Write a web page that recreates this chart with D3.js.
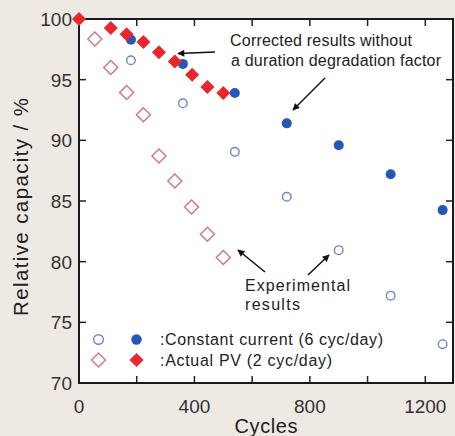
<!DOCTYPE html>
<meta charset="utf-8">
<style type="text/css">
body {
  margin: 0;
  background: #efe9e4;
  font-family: 'Liberation Sans', Arial, sans-serif;
}
.tick-label { font-size: 19px; fill: #333; }
.ann { font-size: 16px; fill: #222; }
</style>
<head>
  <script src="https://cdnjs.cloudflare.com/ajax/libs/d3/7.8.5/d3.min.js"></script>
</head>
<body>
<div class="g-chart"></div>
<script type="text/javascript">

// constant current (6 cyc/day)
var ccCycles = [180, 360, 540, 720, 900, 1080, 1260];
var ccExperimental = [96.6, 93.05, 89.05, 85.35, 80.95, 77.2, 73.2];
var ccCorrected = [98.3, 96.3, 93.9, 91.4, 89.6, 87.2, 84.25];

// actual PV (2 cyc/day)
var pvExpCycles = [55, 110, 165, 223, 277, 332, 390, 445, 500];
var pvExperimental = [98.35, 96.0, 93.95, 92.1, 88.7, 86.65, 84.5, 82.25, 80.35];
var pvCorCycles = [0, 110, 165, 223, 277, 332, 392, 445, 500];
var pvCorrected = [100, 99.25, 98.75, 98.1, 97.25, 96.5, 95.4, 94.4, 93.9];

var xTicks = [0, 200, 400, 600, 800, 1000, 1200];
var xLabels = [0, 400, 800, 1200];
var yTicks = [70, 75, 80, 85, 90, 95, 100];

var width = 455, height = 436;
var blue = "#2757b5", blueOpen = "#6f86c8", red = "#e8262b", redOpen = "#cf7480";

var svg = d3.select(".g-chart").append("svg")
  .attr("width", width)
  .attr("height", height);

var x = d3.scaleLinear().domain([0, 1296]).range([79, 453]);
var y = d3.scaleLinear().domain([70, 100]).range([383, 19]);

// plot area
svg.append("rect")
  .attr("x", x(0)).attr("y", y(100))
  .attr("width", x(1296) - x(0)).attr("height", y(70) - y(100))
  .attr("fill", "#fff");

var defs = svg.append("defs");
defs.append("marker")
  .attr("id", "arrow")
  .attr("viewBox", "0 0 10 10")
  .attr("refX", 9).attr("refY", 5)
  .attr("markerWidth", 10).attr("markerHeight", 7)
  .attr("markerUnits", "userSpaceOnUse")
  .attr("orient", "auto")
  .append("path").attr("d", "M0,0L10,5L0,10z").attr("fill", "#111");

// ticks, inward on all sides
var tickLen = 7;
svg.append("g").selectAll("line.xb").data(xTicks).enter().append("line")
  .attr("x1", d => x(d)).attr("x2", d => x(d))
  .attr("y1", y(70)).attr("y2", y(70) - tickLen)
  .attr("stroke", "#222").attr("stroke-width", 1.5);
svg.append("g").selectAll("line.xt").data(xTicks).enter().append("line")
  .attr("x1", d => x(d)).attr("x2", d => x(d))
  .attr("y1", y(100)).attr("y2", y(100) + tickLen)
  .attr("stroke", "#222").attr("stroke-width", 1.5);
svg.append("g").selectAll("line.yl").data(yTicks).enter().append("line")
  .attr("x1", x(0)).attr("x2", x(0) + tickLen)
  .attr("y1", d => y(d)).attr("y2", d => y(d))
  .attr("stroke", "#222").attr("stroke-width", 1.5);
svg.append("g").selectAll("line.yr").data(yTicks).enter().append("line")
  .attr("x1", x(1296)).attr("x2", x(1296) - tickLen)
  .attr("y1", d => y(d)).attr("y2", d => y(d))
  .attr("stroke", "#222").attr("stroke-width", 1.5);

// frame
svg.append("rect")
  .attr("x", x(0)).attr("y", y(100))
  .attr("width", x(1296) - x(0)).attr("height", y(70) - y(100))
  .attr("fill", "none").attr("stroke", "#1a1a1a").attr("stroke-width", 2);

// tick labels
svg.append("g").selectAll("text").data(yTicks).enter().append("text")
  .attr("class", "tick-label")
  .attr("x", 72).attr("y", d => y(d) + 7)
  .attr("text-anchor", "end")
  .text(d => d);
svg.append("g").selectAll("text").data(xLabels).enter().append("text")
  .attr("class", "tick-label")
  .attr("x", d => x(d)).attr("y", 413)
  .attr("text-anchor", "middle")
  .text(d => d);

// axis titles
svg.append("text")
  .attr("transform", "translate(28,207) rotate(-90)")
  .attr("text-anchor", "middle")
  .attr("textLength", 218).attr("lengthAdjust", "spacing")
  .style("font-size", "20.5px").style("fill", "#222")
  .text("Relative capacity / %");
svg.append("text")
  .attr("x", 266).attr("y", 433)
  .attr("text-anchor", "middle")
  .attr("textLength", 63).attr("lengthAdjust", "spacing")
  .style("font-size", "20px").style("fill", "#222")
  .text("Cycles");

function diamond(g, cx, cy, r) {
  return g.append("path")
    .attr("d", "M" + cx + "," + (cy - r) + "L" + (cx + r) + "," + cy + "L" + cx + "," + (cy + r) + "L" + (cx - r) + "," + cy + "Z");
}

var marks = svg.append("g");

// open circles: constant current experimental
marks.selectAll("circle.ccE").data(ccCycles).enter().append("circle")
  .attr("cx", d => x(d)).attr("cy", (d, i) => y(ccExperimental[i]))
  .attr("r", 4.3).attr("fill", "none").attr("stroke", blueOpen).attr("stroke-width", 1.4);

// open diamonds: actual PV experimental
pvExpCycles.forEach(function(c, i) {
  diamond(marks, x(c), y(pvExperimental[i]), 7)
    .attr("fill", "none").attr("stroke", redOpen).attr("stroke-width", 1.4);
});

// filled circles: constant current corrected
marks.selectAll("circle.ccC").data(ccCycles).enter().append("circle")
  .attr("cx", d => x(d)).attr("cy", (d, i) => y(ccCorrected[i]))
  .attr("r", 5).attr("fill", blue);

// filled diamonds: actual PV corrected
pvCorCycles.forEach(function(c, i) {
  diamond(marks, x(c), y(pvCorrected[i]), 7).attr("fill", red);
});

// legend
var lg = svg.append("g");
lg.append("circle").attr("cx", 98.5).attr("cy", 339.5).attr("r", 4.8)
  .attr("fill", "none").attr("stroke", blueOpen).attr("stroke-width", 1.4);
lg.append("circle").attr("cx", 136.5).attr("cy", 339.5).attr("r", 5.2).attr("fill", blue);
diamond(lg, 98.5, 360, 7).attr("fill", "none").attr("stroke", redOpen).attr("stroke-width", 1.4);
diamond(lg, 136.5, 360, 7).attr("fill", red);

function label(tx, ty, len, s) {
  svg.append("text").attr("class", "ann").attr("x", tx).attr("y", ty)
    .attr("textLength", len).attr("lengthAdjust", "spacing")
    .text(s);
}
label(160, 345, 223, ":Constant current (6 cyc/day)");
label(160, 366, 172, ":Actual PV (2 cyc/day)");

// annotations
label(230, 46, 182, "Corrected results without");
label(231, 66, 210, "a duration degradation factor");
label(245, 291, 105, "Experimental");
label(245, 310, 55, "results");

var arrows = [
  [215, 52, 178, 53.5],
  [325, 78, 293, 110],
  [265, 272, 238, 250],
  [308, 275, 329, 255]
];
svg.append("g").selectAll("line").data(arrows).enter().append("line")
  .attr("x1", d => d[0]).attr("y1", d => d[1])
  .attr("x2", d => d[2]).attr("y2", d => d[3])
  .attr("stroke", "#111").attr("stroke-width", 1.5)
  .attr("marker-end", "url(#arrow)");

</script>
</body>
